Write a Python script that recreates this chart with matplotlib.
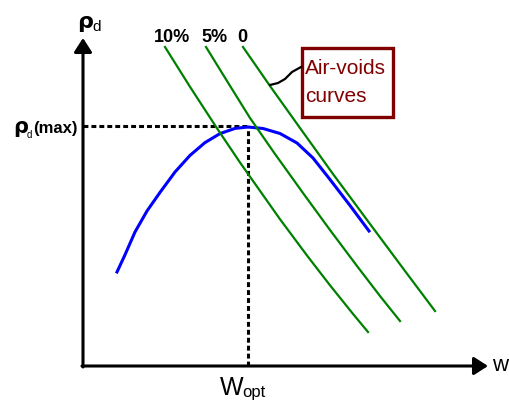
import matplotlib
matplotlib.use('Agg')
import matplotlib.pyplot as plt
from matplotlib.patches import Rectangle

plt.rcParams['font.family'] = ['Liberation Sans Narrow', 'Liberation Sans', 'DejaVu Sans']

# compaction curve: water content w vs dry density (arbitrary units)
curve_w = [3.4, 4.2, 5.2, 6.4, 7.7, 9.2, 10.7, 12.2, 13.7, 15.2, 16.5,
           18.0, 19.7, 21.4, 23.0, 24.7, 26.7, 28.6]
curve_rho = [9.4, 11.12, 13.4, 15.5, 17.36, 19.4, 21.06, 22.34, 23.24, 23.76, 23.9,
             23.75, 23.25, 22.3, 20.8, 18.65, 16.05, 13.5]

# air-voids curves (10%, 5%, 0%)
voids_labels = ['10%', '5%', '0']
voids10_w = [8.2, 10.7, 13.4, 15.7, 19.7, 22.4, 24.7, 27.0, 28.5]
voids10_rho = [31.9, 27.92, 23.77, 20.35, 14.68, 11.05, 8.07, 5.21, 3.4]
voids5_w = [12.3, 14.4, 16.7, 19.2, 22.0, 24.7, 27.4, 29.7, 31.7]
voids5_rho = [31.9, 28.5, 24.8, 21.2, 17.3, 13.6, 10.0, 7.0, 4.5]
voids0_w = [16.0, 18.7, 21.7, 25.0, 29.0, 32.2, 35.2]
voids0_rho = [31.9, 28.0, 23.8, 19.2, 13.8, 9.5, 5.5]

w_opt = 16.53
rho_max = 24.03

fig = plt.figure(figsize=(5.10, 4.02), dpi=100)
ax = fig.add_axes([0, 0, 1, 1])
ax.set_xlim(-8.3, 42.7)
ax.set_ylim(-3.5, 36.7)
ax.axis('off')

# axes with arrows
arrow = dict(arrowstyle='-|>,head_length=0.42,head_width=0.27', lw=2.2, color='black',
             mutation_scale=20, shrinkA=0, shrinkB=0)
ax.annotate('', xy=(0, 32.8), xytext=(0, -0.1), arrowprops=arrow)
ax.annotate('', xy=(40.5, 0), xytext=(-0.1, 0), arrowprops=arrow)

# dashed guides
ax.plot([0, w_opt], [rho_max, rho_max], color='black', lw=2.2, ls=(0, (1.6, 1.0)))
ax.plot([w_opt, w_opt], [0, rho_max], color='black', lw=2.2, ls=(0, (1.6, 1.0)))

# curves
ax.plot(curve_w, curve_rho, color='#0000ff', lw=2.2)
for w, rho in [(voids10_w, voids10_rho), (voids5_w, voids5_rho), (voids0_w, voids0_rho)]:
    ax.plot(w, rho, color='#008000', lw=1.6)

for lab, x in zip(voids_labels, [8.9, 13.2, 15.9]):
    ax.text(x, 33.0, lab, ha='center', va='center', fontsize=13, fontweight='bold')

# axis labels
ax.text(-0.6, 33.9, 'ρ', fontsize=16, fontweight='bold', family='DejaVu Sans', va='baseline')
ax.text(0.9, 33.6, 'd', fontsize=11, va='baseline')
ax.text(-7.0, 23.4, 'ρ', fontsize=15, fontweight='bold', family='DejaVu Sans', va='baseline')
ax.text(-5.6, 22.9, 'd', fontsize=7, va='baseline')
ax.text(-0.5, 23.8, '(max)', fontsize=12, fontweight='bold', ha='right', va='center')
ax.text(13.7, -2.8, 'W', fontsize=18, va='baseline')
ax.text(15.9, -3.0, 'opt', fontsize=12, va='baseline')
ax.text(40.9, 0.1, 'w', fontsize=16, va='center')

# legend-like box
ax.add_patch(Rectangle((21.9, 24.9), 9.1, 6.9, fill=False, ec='#800000', lw=2.4))
ax.text(22.2, 29.9, 'Air-voids', fontsize=15, color='#800000', va='center')
ax.text(22.2, 27.0, 'curves', fontsize=15, color='#800000', va='center')
ax.plot([18.7, 19.5, 20.2, 20.9, 21.8], [28.1, 28.3, 28.7, 29.4, 29.9], color='black', lw=1.6)

fig.savefig('out.png', dpi=100)
